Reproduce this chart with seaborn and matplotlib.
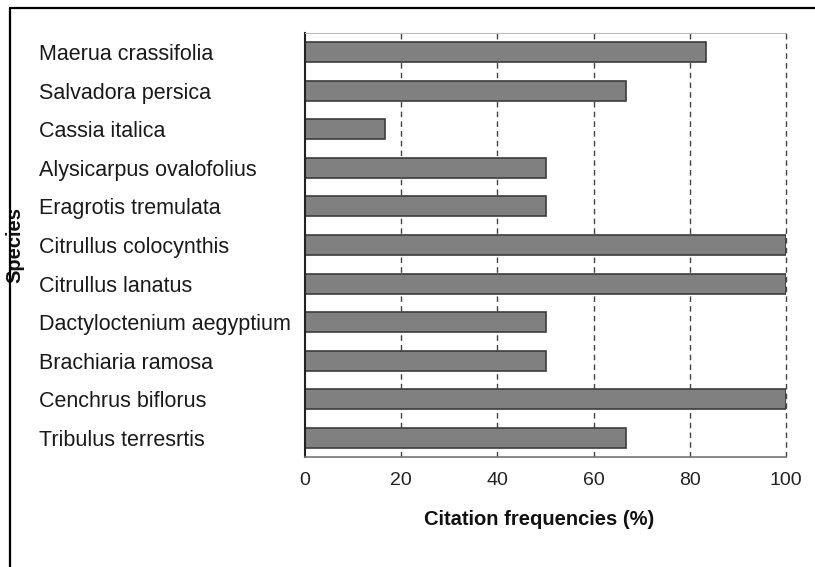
import matplotlib
matplotlib.use("Agg")
import matplotlib.pyplot as plt
from matplotlib.lines import Line2D
import seaborn as sns
import pandas as pd

species = ["Maerua crassifolia", "Salvadora persica", "Cassia italica",
           "Alysicarpus ovalofolius", "Eragrotis tremulata", "Citrullus colocynthis",
           "Citrullus lanatus", "Dactyloctenium aegyptium", "Brachiaria ramosa",
           "Cenchrus biflorus", "Tribulus terresrtis"]
frequencies = [83.3, 66.7, 16.7, 50, 50, 100, 100, 50, 50, 100, 66.7]
xticks = [0, 20, 40, 60, 80, 100]

df = pd.DataFrame({"Species": species, "Freq": frequencies})

sns.set_theme(style="white")
plt.rcParams["font.family"] = ["Liberation Sans", "DejaVu Sans"]

fig = plt.figure(figsize=(8.15, 5.67), dpi=100)
ax = fig.add_axes([305/815, 1-457/567, 481/815, 424/567])

sns.barplot(data=df, x="Freq", y="Species", orient="h", color="#808080",
            edgecolor="#3c3c3c", linewidth=1.2, width=0.52, saturation=1, ax=ax)

ax.set_xlim(0, 100)
ax.set_xticks(xticks)
ax.set_xticklabels([str(t) for t in xticks], fontsize=14, color="#222222")
for t in xticks[1:]:
    ax.axvline(t, color="#444444", linestyle=(0, (4, 3)), linewidth=1.0,
               zorder=0, clip_on=False)

ax.tick_params(axis="x", direction="out", length=6, width=1, color="#666666", pad=5)
ax.tick_params(axis="y", length=0, pad=191.5, labelsize=15.5, labelcolor="#1a1a1a")
for lab in ax.get_yticklabels():
    lab.set_ha("left")

ax.spines["right"].set_visible(False)
ax.spines["top"].set_color("#bbbbbb")
ax.spines["top"].set_linewidth(0.8)
ax.spines["top"].set_linestyle((0, (1, 1)))
ax.spines["left"].set_color("#222222")
ax.spines["left"].set_linewidth(1.5)
ax.spines["bottom"].set_color("#777777")
ax.spines["bottom"].set_linewidth(1.2)

ax.set_xlabel("Citation frequencies (%)", fontsize=14.5, fontweight="bold", color="#111111")
ax.xaxis.set_label_coords(0.487, -0.125)
ax.set_ylabel("Species", fontsize=14.5, fontweight="bold", color="#111111")
ax.yaxis.set_label_coords(-0.584, 0.5)

fx = 10/815
fy = 1 - 8/567
fig.add_artist(Line2D([fx, fx], [0, fy], color="black", linewidth=1.6, transform=fig.transFigure))
fig.add_artist(Line2D([fx, 1], [fy, fy], color="black", linewidth=1.6, transform=fig.transFigure))

fig.savefig("out.png", dpi=100)
